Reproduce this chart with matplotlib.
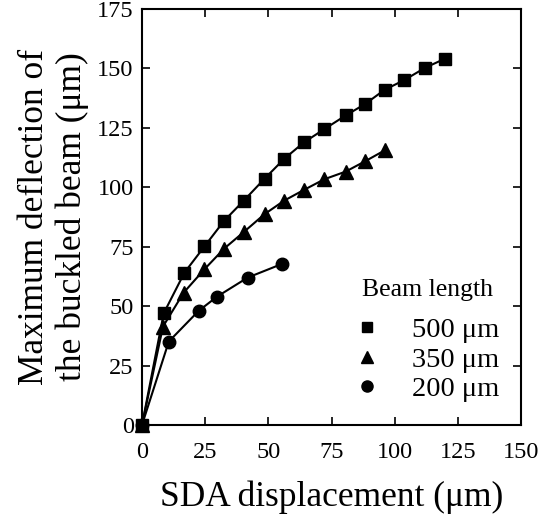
import matplotlib
matplotlib.use("Agg")
import matplotlib.pyplot as plt
from matplotlib.lines import Line2D

plt.rcParams['font.family'] = ['Liberation Serif', 'DejaVu Serif']

# Data (SDA displacement in um, max deflection in um)
x500 = [0, 8.6, 16.8, 24.7, 32.5, 40.2, 48.5, 56.3, 64.1, 72.2, 80.6, 88.4, 96.0, 103.8, 112.1, 119.9]
y500 = [0, 47.0, 64.1, 75.1, 85.9, 94.3, 103.6, 112.0, 118.9, 124.5, 130.2, 135.1, 141.0, 145.1, 150.3, 154.1]
x350 = [0, 8.3, 16.5, 24.7, 32.5, 40.2, 48.5, 56.3, 64.1, 72.2, 80.6, 88.4, 96.0]
y350 = [0, 41.4, 55.7, 65.5, 74.2, 81.1, 88.7, 94.4, 98.9, 103.4, 106.6, 111.0, 115.5]
x200 = [0, 10.6, 22.4, 29.7, 41.8, 55.5]
y200 = [0, 35.1, 48.0, 54.0, 62.0, 67.8]
series_labels = ['500 μm', '350 μm', '200 μm']
legend_title = 'Beam length'
xticks = [0, 25, 50, 75, 100, 125, 150]
yticks = [0, 25, 50, 75, 100, 125, 150, 175]

fig = plt.figure(figsize=(5.57, 5.14), dpi=100)
ax = fig.add_axes([142/557, 89/514, 379/557, 416/514])

lw = 1.5
ax.plot(x500, y500, color='black', lw=lw, marker='s', ms=9, zorder=3, clip_on=False)
ax.plot(x350, y350, color='black', lw=lw, marker='^', ms=9.5, zorder=3, clip_on=False)
ax.plot(x200, y200, color='black', lw=lw, marker='o', ms=9, zorder=3, clip_on=False)

ax.set_xlim(0, 150)
ax.set_ylim(0, 175)
ax.set_xticks(xticks)
ax.set_yticks(yticks)
ax.tick_params(direction='in', top=True, right=True, length=6, width=1.2,
               labelsize=17.5, colors='black')
ax.tick_params(axis='x', pad=12)
ax.tick_params(axis='y', pad=6)
for s in ax.spines.values():
    s.set_linewidth(1.5)

ax.set_xlabel('SDA displacement (μm)', fontsize=25.5, labelpad=13)
ax.set_ylabel('Maximum deflection of\nthe buckled beam (μm)', fontsize=25.5,
              labelpad=6, linespacing=1.15)

handles = [Line2D([], [], color='black', marker='s', ms=7, ls='none'),
           Line2D([], [], color='black', marker='^', ms=8, ls='none'),
           Line2D([], [], color='black', marker='o', ms=8, ls='none')]
leg = ax.legend(handles, series_labels, loc='upper left',
                bbox_to_anchor=(358/557, 1 - 317/514),
                bbox_transform=fig.transFigure, frameon=False, fontsize=20.5,
                handlelength=0.6, handletextpad=1.3,
                labelspacing=0.13, borderpad=0, borderaxespad=0)
fig.text(362/557, 1 - 290/514, legend_title, fontsize=18.5, ha='left', va='center')

fig.savefig('out.png', dpi=100)
